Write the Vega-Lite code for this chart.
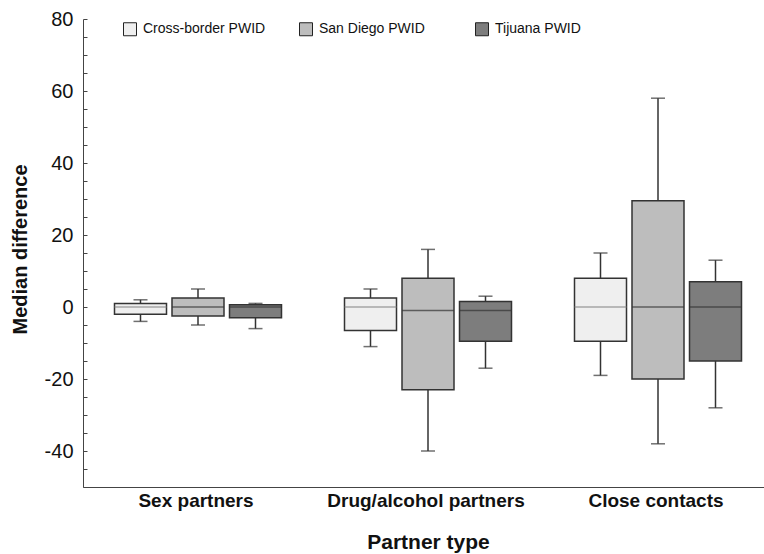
{
  "$schema": "https://vega.github.io/schema/vega-lite/v6.json",
  "width": 681,
  "height": 468,
  "autosize": "none",
  "padding": {"left": 83, "top": 19, "right": 0, "bottom": 67},
  "background": "white",
  "config": {
    "view": {"stroke": null},
    "font": "Liberation Sans",
    "axis": {"grid": false, "domainColor": "#444", "labelColor": "#111", "titleColor": "#111"},
    "axisY": {"labelOverlap": false}
  },
  "data": {
    "values": [
      {"group": "Sex partners", "type": "Cross-border PWID", "min": -4, "q1": -2, "median": 0, "q3": 1, "max": 2},
      {"group": "Sex partners", "type": "San Diego PWID", "min": -5, "q1": -2.5, "median": 0, "q3": 2.5, "max": 5},
      {"group": "Sex partners", "type": "Tijuana PWID", "min": -6, "q1": -3, "median": 0, "q3": 0.6, "max": 1},
      {"group": "Drug/alcohol partners", "type": "Cross-border PWID", "min": -11, "q1": -6.5, "median": 0, "q3": 2.5, "max": 5},
      {"group": "Drug/alcohol partners", "type": "San Diego PWID", "min": -40, "q1": -23, "median": -1, "q3": 8, "max": 16},
      {"group": "Drug/alcohol partners", "type": "Tijuana PWID", "min": -17, "q1": -9.5, "median": -1, "q3": 1.5, "max": 3},
      {"group": "Close contacts", "type": "Cross-border PWID", "min": -19, "q1": -9.5, "median": 0, "q3": 8, "max": 15},
      {"group": "Close contacts", "type": "San Diego PWID", "min": -38, "q1": -20, "median": 0, "q3": 29.5, "max": 58},
      {"group": "Close contacts", "type": "Tijuana PWID", "min": -28, "q1": -15, "median": 0, "q3": 7, "max": 13}
    ]
  },
  "encoding": {
    "x": {
      "field": "group",
      "type": "nominal",
      "sort": ["Sex partners", "Drug/alcohol partners", "Close contacts"],
      "scale": {"range": [0, 690], "paddingInner": 0, "paddingOuter": 0},
      "axis": {
        "title": "Partner type",
        "labelAngle": 0,
        "ticks": false,
        "labelFontSize": 19,
        "labelFontWeight": "bold",
        "labelPadding": 4,
        "labelOffset": -2,
        "labelLimit": 400,
        "titleFontSize": 21,
        "titleFontWeight": "bold",
        "titleX": 345,
        "titleY": 55,
        "titleBaseline": "middle",
        "titleAlign": "center"
      }
    },
    "xOffset": {
      "field": "type",
      "type": "nominal",
      "sort": ["Cross-border PWID", "San Diego PWID", "Tijuana PWID"],
      "scale": {"paddingOuter": 0.5, "paddingInner": 0}
    }
  },
  "layer": [
    {
      "mark": {"type": "rule", "color": "#333", "strokeWidth": 1.5},
      "encoding": {
        "y": {
          "field": "min",
          "type": "quantitative",
          "title": "Median difference",
          "scale": {"domain": [-50, 80], "nice": false, "zero": false},
          "axis": {
            "title": "Median difference",
            "values": [-50, -45, -40, -35, -30, -25, -20, -15, -10, -5, 0, 5, 10, 15, 20, 25, 30, 35, 40, 45, 50, 55, 60, 65, 70, 75, 80],
            "tickCount": 40,
            "labelExpr": "datum.value % 20 === 0 ? '' + datum.value : ''",
            "labelOverlap": false,
            "labelFontSize": 20,
            "labelPadding": 14,
            "tickSize": -4,
            "tickColor": "#444",
            "titleFontSize": 20,
            "titleFontWeight": "bold",
            "titleAngle": -90,
            "titleX": -63,
            "titleY": 230,
            "titleBaseline": "middle",
            "titleAlign": "center"
          }
        },
        "y2": {"field": "max"}
      }
    },
    {
      "mark": {"type": "tick", "color": "#333", "size": 14, "thickness": 1.5},
      "encoding": {"y": {"field": "min", "type": "quantitative", "title": "Median difference"}}
    },
    {
      "mark": {"type": "tick", "color": "#333", "size": 14, "thickness": 1.5},
      "encoding": {"y": {"field": "max", "type": "quantitative", "title": "Median difference"}}
    },
    {
      "mark": {"type": "bar", "width": 52, "stroke": "#333", "strokeWidth": 1.5},
      "encoding": {
        "y": {"field": "q1", "type": "quantitative", "title": "Median difference"},
        "y2": {"field": "q3"},
        "fill": {
          "field": "type",
          "type": "nominal",
          "scale": {"domain": ["Cross-border PWID", "San Diego PWID", "Tijuana PWID"], "range": ["#efefef", "#bdbdbd", "#7d7d7d"]},
          "legend": {
            "title": null,
            "orient": "none",
            "direction": "horizontal",
            "legendX": 40,
            "legendY": 3,
            "columns": 3,
            "gridAlign": "all",
            "columnPadding": 31,
            "padding": 0,
            "symbolType": "square",
            "symbolSize": 169,
            "symbolStrokeColor": "#222",
            "symbolStrokeWidth": 1,
            "symbolOpacity": 1,
            "labelFontSize": 14,
            "labelColor": "#111",
            "labelOffset": 6,
            "labelLimit": 300
          }
        }
      }
    },
    {
      "mark": {"type": "tick", "size": 52, "thickness": 1.5},
      "encoding": {
        "y": {"field": "median", "type": "quantitative", "title": "Median difference"},
        "color": {"condition": {"test": "datum.type === 'Cross-border PWID'", "value": "#888"}, "value": "#333"}
      }
    }
  ]
}
